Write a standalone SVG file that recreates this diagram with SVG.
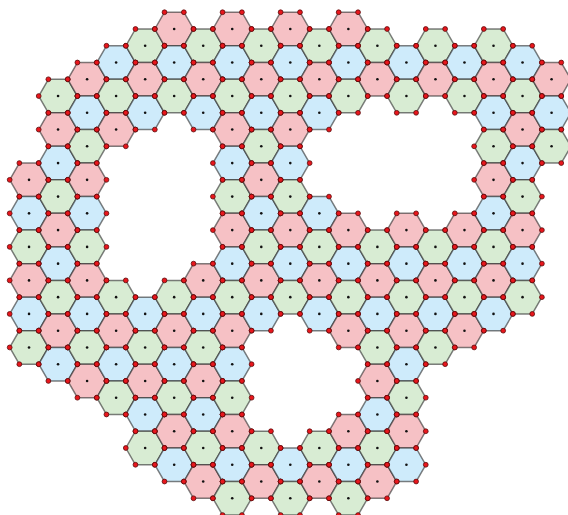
<svg xmlns="http://www.w3.org/2000/svg" xmlns:xlink="http://www.w3.org/1999/xlink" width="568" height="515" viewBox="0 0 568 515">
<style>
.hp{stroke:#2a2a2a;stroke-opacity:0.6;stroke-width:1.5;stroke-linejoin:round}
.r{fill:#f6c1c5}
.g{fill:#d8ecd3}
.b{fill:#ceebfb}
.c{fill:#111}
.v{fill:#e8161c;stroke:#5a0a0a;stroke-width:0.8}
</style>
<defs>
<polygon id="hx" class="hp" points="19.35,0 9.68,16.76 -9.68,16.76 -19.35,0 -9.68,-16.76 9.68,-16.76"/>
<g id="hr"><use href="#hx" class="r"/><circle class="c" r="1.3"/></g>
<g id="hg"><use href="#hx" class="g"/><circle class="c" r="1.3"/></g>
<g id="hb"><use href="#hx" class="b"/><circle class="c" r="1.3"/></g>
<g id="V">
<circle class="v" cx="19.35" cy="0" r="2.4"/><circle class="v" cx="9.68" cy="16.76" r="2.4"/><circle class="v" cx="-9.68" cy="16.76" r="2.4"/>
<circle class="v" cx="-19.35" cy="0" r="2.4"/><circle class="v" cx="-9.68" cy="-16.76" r="2.4"/><circle class="v" cx="9.68" cy="-16.76" r="2.4"/>
</g>
</defs>
<g id="hexes">
<g id="h1-9"><use href="#hr" x="29.03" y="179.84"/></g>
<g id="h1-11"><use href="#hb" x="29.03" y="213.36"/></g>
<g id="h1-13"><use href="#hg" x="29.03" y="246.88"/></g>
<g id="h1-15"><use href="#hr" x="29.03" y="280.4"/></g>
<g id="h1-17"><use href="#hb" x="29.03" y="313.92"/></g>
<g id="h1-19"><use href="#hg" x="29.03" y="347.44"/></g>
<g id="h2-4"><use href="#hg" x="58.06" y="96.04"/></g>
<g id="h2-6"><use href="#hr" x="58.06" y="129.56"/></g>
<g id="h2-8"><use href="#hb" x="58.06" y="163.08"/></g>
<g id="h2-10"><use href="#hg" x="58.06" y="196.6"/></g>
<g id="h2-12"><use href="#hr" x="58.06" y="230.12"/></g>
<g id="h2-14"><use href="#hb" x="58.06" y="263.64"/></g>
<g id="h2-16"><use href="#hg" x="58.06" y="297.16"/></g>
<g id="h2-18"><use href="#hr" x="58.06" y="330.68"/></g>
<g id="h2-20"><use href="#hb" x="58.06" y="364.2"/></g>
<g id="h3-3"><use href="#hr" x="87.09" y="79.28"/></g>
<g id="h3-5"><use href="#hb" x="87.09" y="112.8"/></g>
<g id="h3-7"><use href="#hg" x="87.09" y="146.32"/></g>
<g id="h3-9"><use href="#hr" x="87.09" y="179.84"/></g>
<g id="h3-11"><use href="#hb" x="87.09" y="213.36"/></g>
<g id="h3-13"><use href="#hg" x="87.09" y="246.88"/></g>
<g id="h3-15"><use href="#hr" x="87.09" y="280.4"/></g>
<g id="h3-17"><use href="#hb" x="87.09" y="313.92"/></g>
<g id="h3-19"><use href="#hg" x="87.09" y="347.44"/></g>
<g id="h3-21"><use href="#hr" x="87.09" y="380.96"/></g>
<g id="h4-2"><use href="#hb" x="116.12" y="62.52"/></g>
<g id="h4-4"><use href="#hg" x="116.12" y="96.04"/></g>
<g id="h4-6"><use href="#hr" x="116.12" y="129.56"/></g>
<g id="h4-16"><use href="#hg" x="116.12" y="297.16"/></g>
<g id="h4-18"><use href="#hr" x="116.12" y="330.68"/></g>
<g id="h4-20"><use href="#hb" x="116.12" y="364.2"/></g>
<g id="h4-22"><use href="#hg" x="116.12" y="397.72"/></g>
<g id="h5-1"><use href="#hg" x="145.15" y="45.76"/></g>
<g id="h5-3"><use href="#hr" x="145.15" y="79.28"/></g>
<g id="h5-5"><use href="#hb" x="145.15" y="112.8"/></g>
<g id="h5-17"><use href="#hb" x="145.15" y="313.92"/></g>
<g id="h5-19"><use href="#hg" x="145.15" y="347.44"/></g>
<g id="h5-21"><use href="#hr" x="145.15" y="380.96"/></g>
<g id="h5-23"><use href="#hb" x="145.15" y="414.48"/></g>
<g id="h5-25"><use href="#hg" x="145.15" y="448"/></g>
<g id="h6-0"><use href="#hr" x="174.18" y="29"/></g>
<g id="h6-2"><use href="#hb" x="174.18" y="62.52"/></g>
<g id="h6-4"><use href="#hg" x="174.18" y="96.04"/></g>
<g id="h6-16"><use href="#hg" x="174.18" y="297.16"/></g>
<g id="h6-18"><use href="#hr" x="174.18" y="330.68"/></g>
<g id="h6-20"><use href="#hb" x="174.18" y="364.2"/></g>
<g id="h6-22"><use href="#hg" x="174.18" y="397.72"/></g>
<g id="h6-24"><use href="#hr" x="174.18" y="431.24"/></g>
<g id="h6-26"><use href="#hb" x="174.18" y="464.76"/></g>
<g id="h7-1"><use href="#hg" x="203.21" y="45.76"/></g>
<g id="h7-3"><use href="#hr" x="203.21" y="79.28"/></g>
<g id="h7-5"><use href="#hb" x="203.21" y="112.8"/></g>
<g id="h7-15"><use href="#hr" x="203.21" y="280.4"/></g>
<g id="h7-17"><use href="#hb" x="203.21" y="313.92"/></g>
<g id="h7-19"><use href="#hg" x="203.21" y="347.44"/></g>
<g id="h7-21"><use href="#hr" x="203.21" y="380.96"/></g>
<g id="h7-23"><use href="#hb" x="203.21" y="414.48"/></g>
<g id="h7-25"><use href="#hg" x="203.21" y="448"/></g>
<g id="h7-27"><use href="#hr" x="203.21" y="481.52"/></g>
<g id="h8-0"><use href="#hr" x="232.24" y="29"/></g>
<g id="h8-2"><use href="#hb" x="232.24" y="62.52"/></g>
<g id="h8-4"><use href="#hg" x="232.24" y="96.04"/></g>
<g id="h8-6"><use href="#hr" x="232.24" y="129.56"/></g>
<g id="h8-8"><use href="#hb" x="232.24" y="163.08"/></g>
<g id="h8-10"><use href="#hg" x="232.24" y="196.6"/></g>
<g id="h8-12"><use href="#hr" x="232.24" y="230.12"/></g>
<g id="h8-14"><use href="#hb" x="232.24" y="263.64"/></g>
<g id="h8-16"><use href="#hg" x="232.24" y="297.16"/></g>
<g id="h8-18"><use href="#hr" x="232.24" y="330.68"/></g>
<g id="h8-20"><use href="#hb" x="232.24" y="364.2"/></g>
<g id="h8-22"><use href="#hg" x="232.24" y="397.72"/></g>
<g id="h8-24"><use href="#hr" x="232.24" y="431.24"/></g>
<g id="h8-26"><use href="#hb" x="232.24" y="464.76"/></g>
<g id="h8-28"><use href="#hg" x="232.24" y="498.28"/></g>
<g id="h9-1"><use href="#hg" x="261.27" y="45.76"/></g>
<g id="h9-3"><use href="#hr" x="261.27" y="79.28"/></g>
<g id="h9-5"><use href="#hb" x="261.27" y="112.8"/></g>
<g id="h9-7"><use href="#hg" x="261.27" y="146.32"/></g>
<g id="h9-9"><use href="#hr" x="261.27" y="179.84"/></g>
<g id="h9-11"><use href="#hb" x="261.27" y="213.36"/></g>
<g id="h9-13"><use href="#hg" x="261.27" y="246.88"/></g>
<g id="h9-15"><use href="#hr" x="261.27" y="280.4"/></g>
<g id="h9-17"><use href="#hb" x="261.27" y="313.92"/></g>
<g id="h9-25"><use href="#hg" x="261.27" y="448"/></g>
<g id="h9-27"><use href="#hr" x="261.27" y="481.52"/></g>
<g id="h10-0"><use href="#hr" x="290.3" y="29"/></g>
<g id="h10-2"><use href="#hb" x="290.3" y="62.52"/></g>
<g id="h10-4"><use href="#hg" x="290.3" y="96.04"/></g>
<g id="h10-6"><use href="#hr" x="290.3" y="129.56"/></g>
<g id="h10-8"><use href="#hb" x="290.3" y="163.08"/></g>
<g id="h10-10"><use href="#hg" x="290.3" y="196.6"/></g>
<g id="h10-12"><use href="#hr" x="290.3" y="230.12"/></g>
<g id="h10-14"><use href="#hb" x="290.3" y="263.64"/></g>
<g id="h10-16"><use href="#hg" x="290.3" y="297.16"/></g>
<g id="h10-26"><use href="#hb" x="290.3" y="464.76"/></g>
<g id="h10-28"><use href="#hg" x="290.3" y="498.28"/></g>
<g id="h11-1"><use href="#hg" x="319.33" y="45.76"/></g>
<g id="h11-3"><use href="#hr" x="319.33" y="79.28"/></g>
<g id="h11-5"><use href="#hb" x="319.33" y="112.8"/></g>
<g id="h11-11"><use href="#hb" x="319.33" y="213.36"/></g>
<g id="h11-13"><use href="#hg" x="319.33" y="246.88"/></g>
<g id="h11-15"><use href="#hr" x="319.33" y="280.4"/></g>
<g id="h11-17"><use href="#hb" x="319.33" y="313.92"/></g>
<g id="h11-25"><use href="#hg" x="319.33" y="448"/></g>
<g id="h11-27"><use href="#hr" x="319.33" y="481.52"/></g>
<g id="h12-0"><use href="#hr" x="348.36" y="29"/></g>
<g id="h12-2"><use href="#hb" x="348.36" y="62.52"/></g>
<g id="h12-4"><use href="#hg" x="348.36" y="96.04"/></g>
<g id="h12-12"><use href="#hr" x="348.36" y="230.12"/></g>
<g id="h12-14"><use href="#hb" x="348.36" y="263.64"/></g>
<g id="h12-16"><use href="#hg" x="348.36" y="297.16"/></g>
<g id="h12-18"><use href="#hr" x="348.36" y="330.68"/></g>
<g id="h12-24"><use href="#hr" x="348.36" y="431.24"/></g>
<g id="h12-26"><use href="#hb" x="348.36" y="464.76"/></g>
<g id="h12-28"><use href="#hg" x="348.36" y="498.28"/></g>
<g id="h13-1"><use href="#hg" x="377.39" y="45.76"/></g>
<g id="h13-3"><use href="#hr" x="377.39" y="79.28"/></g>
<g id="h13-13"><use href="#hg" x="377.39" y="246.88"/></g>
<g id="h13-15"><use href="#hr" x="377.39" y="280.4"/></g>
<g id="h13-17"><use href="#hb" x="377.39" y="313.92"/></g>
<g id="h13-19"><use href="#hg" x="377.39" y="347.44"/></g>
<g id="h13-21"><use href="#hr" x="377.39" y="380.96"/></g>
<g id="h13-23"><use href="#hb" x="377.39" y="414.48"/></g>
<g id="h13-25"><use href="#hg" x="377.39" y="448"/></g>
<g id="h13-27"><use href="#hr" x="377.39" y="481.52"/></g>
<g id="h14-2"><use href="#hb" x="406.42" y="62.52"/></g>
<g id="h14-4"><use href="#hg" x="406.42" y="96.04"/></g>
<g id="h14-12"><use href="#hr" x="406.42" y="230.12"/></g>
<g id="h14-14"><use href="#hb" x="406.42" y="263.64"/></g>
<g id="h14-16"><use href="#hg" x="406.42" y="297.16"/></g>
<g id="h14-18"><use href="#hr" x="406.42" y="330.68"/></g>
<g id="h14-20"><use href="#hb" x="406.42" y="364.2"/></g>
<g id="h14-22"><use href="#hg" x="406.42" y="397.72"/></g>
<g id="h14-24"><use href="#hr" x="406.42" y="431.24"/></g>
<g id="h14-26"><use href="#hb" x="406.42" y="464.76"/></g>
<g id="h15-1"><use href="#hg" x="435.45" y="45.76"/></g>
<g id="h15-3"><use href="#hr" x="435.45" y="79.28"/></g>
<g id="h15-13"><use href="#hg" x="435.45" y="246.88"/></g>
<g id="h15-15"><use href="#hr" x="435.45" y="280.4"/></g>
<g id="h15-17"><use href="#hb" x="435.45" y="313.92"/></g>
<g id="h15-19"><use href="#hg" x="435.45" y="347.44"/></g>
<g id="h16-2"><use href="#hb" x="464.48" y="62.52"/></g>
<g id="h16-4"><use href="#hg" x="464.48" y="96.04"/></g>
<g id="h16-12"><use href="#hr" x="464.48" y="230.12"/></g>
<g id="h16-14"><use href="#hb" x="464.48" y="263.64"/></g>
<g id="h16-16"><use href="#hg" x="464.48" y="297.16"/></g>
<g id="h16-18"><use href="#hr" x="464.48" y="330.68"/></g>
<g id="h17-1"><use href="#hg" x="493.51" y="45.76"/></g>
<g id="h17-3"><use href="#hr" x="493.51" y="79.28"/></g>
<g id="h17-5"><use href="#hb" x="493.51" y="112.8"/></g>
<g id="h17-7"><use href="#hg" x="493.51" y="146.32"/></g>
<g id="h17-9"><use href="#hr" x="493.51" y="179.84"/></g>
<g id="h17-11"><use href="#hb" x="493.51" y="213.36"/></g>
<g id="h17-13"><use href="#hg" x="493.51" y="246.88"/></g>
<g id="h17-15"><use href="#hr" x="493.51" y="280.4"/></g>
<g id="h17-17"><use href="#hb" x="493.51" y="313.92"/></g>
<g id="h18-2"><use href="#hb" x="522.54" y="62.52"/></g>
<g id="h18-4"><use href="#hg" x="522.54" y="96.04"/></g>
<g id="h18-6"><use href="#hr" x="522.54" y="129.56"/></g>
<g id="h18-8"><use href="#hb" x="522.54" y="163.08"/></g>
<g id="h18-10"><use href="#hg" x="522.54" y="196.6"/></g>
<g id="h18-12"><use href="#hr" x="522.54" y="230.12"/></g>
<g id="h18-14"><use href="#hb" x="522.54" y="263.64"/></g>
<g id="h18-16"><use href="#hg" x="522.54" y="297.16"/></g>
<g id="h19-3"><use href="#hr" x="551.57" y="79.28"/></g>
<g id="h19-5"><use href="#hb" x="551.57" y="112.8"/></g>
<g id="h19-7"><use href="#hg" x="551.57" y="146.32"/></g>
</g>
<g id="vertices">
<use href="#V" x="29.03" y="179.84"/><use href="#V" x="29.03" y="213.36"/><use href="#V" x="29.03" y="246.88"/><use href="#V" x="29.03" y="280.4"/><use href="#V" x="29.03" y="313.92"/><use href="#V" x="29.03" y="347.44"/>
<use href="#V" x="58.06" y="96.04"/><use href="#V" x="58.06" y="129.56"/><use href="#V" x="58.06" y="163.08"/><use href="#V" x="58.06" y="196.6"/><use href="#V" x="58.06" y="230.12"/><use href="#V" x="58.06" y="263.64"/><use href="#V" x="58.06" y="297.16"/><use href="#V" x="58.06" y="330.68"/><use href="#V" x="58.06" y="364.2"/>
<use href="#V" x="87.09" y="79.28"/><use href="#V" x="87.09" y="112.8"/><use href="#V" x="87.09" y="146.32"/><use href="#V" x="87.09" y="179.84"/><use href="#V" x="87.09" y="213.36"/><use href="#V" x="87.09" y="246.88"/><use href="#V" x="87.09" y="280.4"/><use href="#V" x="87.09" y="313.92"/><use href="#V" x="87.09" y="347.44"/><use href="#V" x="87.09" y="380.96"/>
<use href="#V" x="116.12" y="62.52"/><use href="#V" x="116.12" y="96.04"/><use href="#V" x="116.12" y="129.56"/><use href="#V" x="116.12" y="297.16"/><use href="#V" x="116.12" y="330.68"/><use href="#V" x="116.12" y="364.2"/><use href="#V" x="116.12" y="397.72"/>
<use href="#V" x="145.15" y="45.76"/><use href="#V" x="145.15" y="79.28"/><use href="#V" x="145.15" y="112.8"/><use href="#V" x="145.15" y="313.92"/><use href="#V" x="145.15" y="347.44"/><use href="#V" x="145.15" y="380.96"/><use href="#V" x="145.15" y="414.48"/><use href="#V" x="145.15" y="448"/>
<use href="#V" x="174.18" y="29"/><use href="#V" x="174.18" y="62.52"/><use href="#V" x="174.18" y="96.04"/><use href="#V" x="174.18" y="297.16"/><use href="#V" x="174.18" y="330.68"/><use href="#V" x="174.18" y="364.2"/><use href="#V" x="174.18" y="397.72"/><use href="#V" x="174.18" y="431.24"/><use href="#V" x="174.18" y="464.76"/>
<use href="#V" x="203.21" y="45.76"/><use href="#V" x="203.21" y="79.28"/><use href="#V" x="203.21" y="112.8"/><use href="#V" x="203.21" y="280.4"/><use href="#V" x="203.21" y="313.92"/><use href="#V" x="203.21" y="347.44"/><use href="#V" x="203.21" y="380.96"/><use href="#V" x="203.21" y="414.48"/><use href="#V" x="203.21" y="448"/><use href="#V" x="203.21" y="481.52"/>
<use href="#V" x="232.24" y="29"/><use href="#V" x="232.24" y="62.52"/><use href="#V" x="232.24" y="96.04"/><use href="#V" x="232.24" y="129.56"/><use href="#V" x="232.24" y="163.08"/><use href="#V" x="232.24" y="196.6"/><use href="#V" x="232.24" y="230.12"/><use href="#V" x="232.24" y="263.64"/><use href="#V" x="232.24" y="297.16"/><use href="#V" x="232.24" y="330.68"/><use href="#V" x="232.24" y="364.2"/><use href="#V" x="232.24" y="397.72"/><use href="#V" x="232.24" y="431.24"/><use href="#V" x="232.24" y="464.76"/><use href="#V" x="232.24" y="498.28"/>
<use href="#V" x="261.27" y="45.76"/><use href="#V" x="261.27" y="79.28"/><use href="#V" x="261.27" y="112.8"/><use href="#V" x="261.27" y="146.32"/><use href="#V" x="261.27" y="179.84"/><use href="#V" x="261.27" y="213.36"/><use href="#V" x="261.27" y="246.88"/><use href="#V" x="261.27" y="280.4"/><use href="#V" x="261.27" y="313.92"/><use href="#V" x="261.27" y="448"/><use href="#V" x="261.27" y="481.52"/>
<use href="#V" x="290.3" y="29"/><use href="#V" x="290.3" y="62.52"/><use href="#V" x="290.3" y="96.04"/><use href="#V" x="290.3" y="129.56"/><use href="#V" x="290.3" y="163.08"/><use href="#V" x="290.3" y="196.6"/><use href="#V" x="290.3" y="230.12"/><use href="#V" x="290.3" y="263.64"/><use href="#V" x="290.3" y="297.16"/><use href="#V" x="290.3" y="464.76"/><use href="#V" x="290.3" y="498.28"/>
<use href="#V" x="319.33" y="45.76"/><use href="#V" x="319.33" y="79.28"/><use href="#V" x="319.33" y="112.8"/><use href="#V" x="319.33" y="213.36"/><use href="#V" x="319.33" y="246.88"/><use href="#V" x="319.33" y="280.4"/><use href="#V" x="319.33" y="313.92"/><use href="#V" x="319.33" y="448"/><use href="#V" x="319.33" y="481.52"/>
<use href="#V" x="348.36" y="29"/><use href="#V" x="348.36" y="62.52"/><use href="#V" x="348.36" y="96.04"/><use href="#V" x="348.36" y="230.12"/><use href="#V" x="348.36" y="263.64"/><use href="#V" x="348.36" y="297.16"/><use href="#V" x="348.36" y="330.68"/><use href="#V" x="348.36" y="431.24"/><use href="#V" x="348.36" y="464.76"/><use href="#V" x="348.36" y="498.28"/>
<use href="#V" x="377.39" y="45.76"/><use href="#V" x="377.39" y="79.28"/><use href="#V" x="377.39" y="246.88"/><use href="#V" x="377.39" y="280.4"/><use href="#V" x="377.39" y="313.92"/><use href="#V" x="377.39" y="347.44"/><use href="#V" x="377.39" y="380.96"/><use href="#V" x="377.39" y="414.48"/><use href="#V" x="377.39" y="448"/><use href="#V" x="377.39" y="481.52"/>
<use href="#V" x="406.42" y="62.52"/><use href="#V" x="406.42" y="96.04"/><use href="#V" x="406.42" y="230.12"/><use href="#V" x="406.42" y="263.64"/><use href="#V" x="406.42" y="297.16"/><use href="#V" x="406.42" y="330.68"/><use href="#V" x="406.42" y="364.2"/><use href="#V" x="406.42" y="397.72"/><use href="#V" x="406.42" y="431.24"/><use href="#V" x="406.42" y="464.76"/>
<use href="#V" x="435.45" y="45.76"/><use href="#V" x="435.45" y="79.28"/><use href="#V" x="435.45" y="246.88"/><use href="#V" x="435.45" y="280.4"/><use href="#V" x="435.45" y="313.92"/><use href="#V" x="435.45" y="347.44"/>
<use href="#V" x="464.48" y="62.52"/><use href="#V" x="464.48" y="96.04"/><use href="#V" x="464.48" y="230.12"/><use href="#V" x="464.48" y="263.64"/><use href="#V" x="464.48" y="297.16"/><use href="#V" x="464.48" y="330.68"/>
<use href="#V" x="493.51" y="45.76"/><use href="#V" x="493.51" y="79.28"/><use href="#V" x="493.51" y="112.8"/><use href="#V" x="493.51" y="146.32"/><use href="#V" x="493.51" y="179.84"/><use href="#V" x="493.51" y="213.36"/><use href="#V" x="493.51" y="246.88"/><use href="#V" x="493.51" y="280.4"/><use href="#V" x="493.51" y="313.92"/>
<use href="#V" x="522.54" y="62.52"/><use href="#V" x="522.54" y="96.04"/><use href="#V" x="522.54" y="129.56"/><use href="#V" x="522.54" y="163.08"/><use href="#V" x="522.54" y="196.6"/><use href="#V" x="522.54" y="230.12"/><use href="#V" x="522.54" y="263.64"/><use href="#V" x="522.54" y="297.16"/>
<use href="#V" x="551.57" y="79.28"/><use href="#V" x="551.57" y="112.8"/><use href="#V" x="551.57" y="146.32"/>
</g>
</svg>
